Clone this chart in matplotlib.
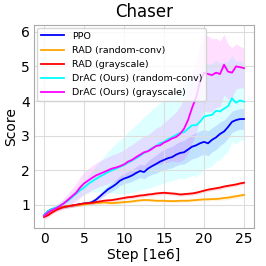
import matplotlib
matplotlib.use("Agg")
import matplotlib.pyplot as plt
import numpy as np

# steps in 1e6, every 0.5
steps = np.arange(0, 25.5, 0.5)

ppo = [0.70, 0.82, 0.88, 0.90, 0.93, 0.95, 0.96, 0.98, 1.00, 1.02,
       1.04, 1.05, 1.08, 1.15, 1.25, 1.35, 1.45, 1.52, 1.60, 1.70,
       1.76, 1.80, 1.85, 1.92, 1.98, 1.95, 2.05, 2.12, 2.18, 2.25,
       2.30, 2.35, 2.38, 2.45, 2.50, 2.52, 2.60, 2.68, 2.72, 2.78,
       2.82, 2.78, 2.88, 2.95, 3.05, 3.12, 3.25, 3.40, 3.45, 3.48,
       3.48]
ppo_std = [0.05, 0.05, 0.05, 0.05, 0.05, 0.05, 0.05, 0.05, 0.05, 0.05,
           0.06, 0.06, 0.07, 0.08, 0.09, 0.10, 0.11, 0.12, 0.13, 0.14,
           0.15, 0.16, 0.17, 0.18, 0.19, 0.20, 0.22, 0.24, 0.26, 0.28,
           0.30, 0.30, 0.31, 0.32, 0.33, 0.34, 0.35, 0.35, 0.36, 0.36,
           0.36, 0.36, 0.35, 0.35, 0.34, 0.33, 0.32, 0.31, 0.30, 0.30,
           0.30]

rad_conv = [0.68, 0.75, 0.82, 0.88, 0.92, 0.95, 0.97, 0.98, 0.99, 1.00,
            1.01, 1.03, 1.05, 1.06, 1.06, 1.07, 1.06, 1.05, 1.06, 1.07,
            1.08, 1.09, 1.10, 1.12, 1.13, 1.14, 1.14, 1.13, 1.12, 1.12,
            1.12, 1.11, 1.11, 1.11, 1.12, 1.12, 1.12, 1.13, 1.14, 1.15,
            1.16, 1.16, 1.17, 1.17, 1.18, 1.20, 1.21, 1.23, 1.25, 1.27,
            1.29]
rad_conv_std = [0.04] * 40 + [0.05] * 5 + [0.06] * 6

rad_gray = [0.65, 0.70, 0.78, 0.85, 0.90, 0.94, 0.96, 0.98, 1.00, 1.02,
            1.04, 1.05, 1.06, 1.08, 1.10, 1.12, 1.13, 1.14, 1.16, 1.18,
            1.20, 1.22, 1.23, 1.25, 1.27, 1.28, 1.30, 1.31, 1.33, 1.34,
            1.35, 1.34, 1.33, 1.32, 1.30, 1.31, 1.32, 1.33, 1.35, 1.38,
            1.41, 1.44, 1.46, 1.48, 1.50, 1.53, 1.55, 1.57, 1.59, 1.62,
            1.64]
rad_gray_std = [0.05] * 51

drac_conv = [0.70, 0.82, 0.88, 0.92, 0.98, 1.05, 1.12, 1.22, 1.32, 1.42,
             1.50, 1.60, 1.68, 1.75, 1.82, 1.88, 1.95, 2.00, 2.05, 2.10,
             2.15, 2.22, 2.28, 2.35, 2.42, 2.50, 2.56, 2.64, 2.70, 2.78,
             2.82, 2.90, 2.95, 3.02, 3.08, 3.10, 3.20, 3.30, 3.30, 3.40,
             3.55, 3.58, 3.60, 3.72, 3.70, 3.78, 3.85, 4.08, 3.95, 4.02,
             3.98]
drac_conv_std = [0.05, 0.06, 0.07, 0.08, 0.09, 0.10, 0.12, 0.14, 0.16, 0.18,
                 0.20, 0.25, 0.30, 0.38, 0.45, 0.52, 0.60, 0.66, 0.72, 0.78,
                 0.82, 0.88, 0.92, 0.96, 1.00, 1.05, 1.08, 1.12, 1.15, 1.18,
                 1.20, 1.22, 1.25, 1.28, 1.30, 1.35, 1.40, 1.45, 1.48, 1.50,
                 1.52, 1.50, 1.48, 1.45, 1.40, 1.35, 1.30, 1.25, 1.20, 1.15,
                 1.10]

drac_gray = [0.68, 0.78, 0.85, 0.90, 0.97, 1.05, 1.15, 1.25, 1.35, 1.50,
             1.62, 1.70, 1.78, 1.85, 1.90, 1.95, 2.00, 2.05, 2.08, 2.12,
             2.17, 2.25, 2.30, 2.38, 2.45, 2.52, 2.55, 2.62, 2.70, 2.72,
             2.80, 2.85, 2.92, 2.96, 3.05, 3.20, 3.45, 3.80, 4.10, 4.55,
             4.82, 4.78, 4.75, 4.82, 4.78, 5.05, 4.85, 4.82, 5.00, 4.98,
             4.95]
drac_gray_std = [0.05, 0.06, 0.08, 0.10, 0.12, 0.15, 0.18, 0.22, 0.26, 0.30,
                 0.32, 0.34, 0.35, 0.36, 0.37, 0.38, 0.39, 0.40, 0.40, 0.41,
                 0.42, 0.43, 0.44, 0.45, 0.46, 0.47, 0.48, 0.50, 0.52, 0.55,
                 0.58, 0.62, 0.66, 0.72, 0.80, 0.88, 0.95, 1.00, 1.05, 1.08,
                 1.10, 1.10, 1.05, 1.00, 0.95, 0.88, 0.80, 0.72, 0.65, 0.60,
                 0.58]

series = [
    ("PPO", ppo, ppo_std, "blue"),
    ("RAD (random-conv)", rad_conv, rad_conv_std, "orange"),
    ("RAD (grayscale)", rad_gray, rad_gray_std, "red"),
    ("DrAC (Ours) (random-conv)", drac_conv, drac_conv_std, "cyan"),
    ("DrAC (Ours) (grayscale)", drac_gray, drac_gray_std, "magenta"),
]

fig = plt.figure(figsize=(2.66, 2.66), dpi=100)
ax = fig.add_axes([0.128, 0.143, 0.827, 0.763])

for name, m, s, c in series:
    m = np.array(m)
    s = np.array(s)
    ax.plot(steps, m, color=c, lw=1.3, label=name)
    ax.fill_between(steps, m - s, m + s, color=c, alpha=0.13, lw=0)

ax.set_title("Chaser", fontsize=12, pad=6)
ax.set_xlabel("Step [1e6]", fontsize=10, labelpad=1)
ax.set_ylabel("Score", fontsize=10, labelpad=2)
ax.set_xticks([0, 5, 10, 15, 20, 25])
ax.set_yticks([1, 2, 3, 4, 5, 6])
ax.tick_params(labelsize=10, length=0, pad=3)
ax.grid(True, color="#dddddd", lw=0.8)
for sp in ax.spines.values():
    sp.set_color("#aaaaaa")
ax.legend(loc="upper left", fontsize=6.8, handlelength=2.5, borderaxespad=0.3,
          labelspacing=0.55, framealpha=0.8)

fig.savefig("out.png", dpi=100)
